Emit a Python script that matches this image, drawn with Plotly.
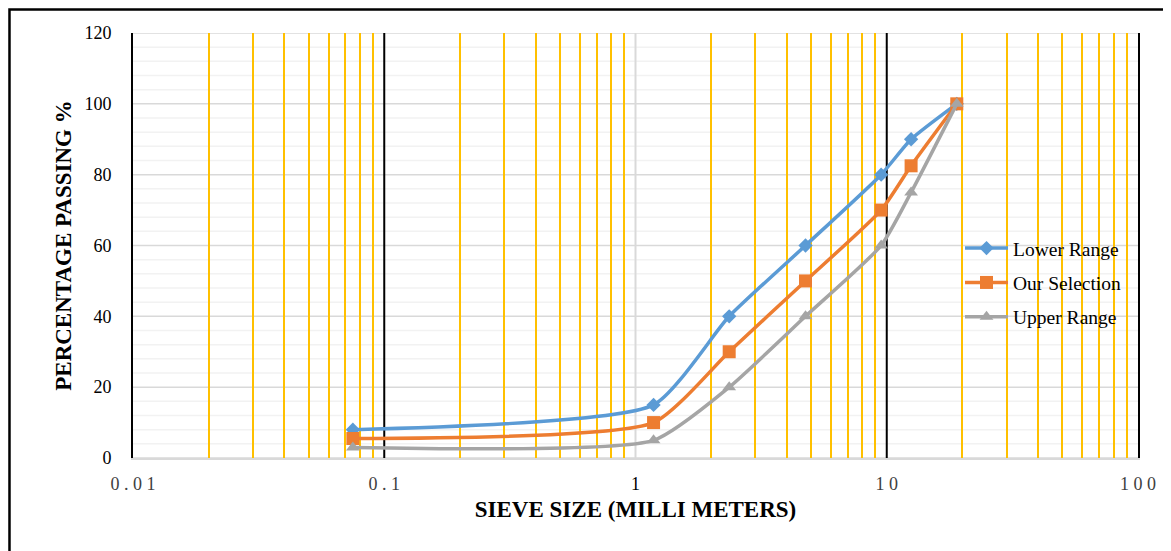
import plotly.graph_objects as go

sieve_sizes = [0.075, 1.18, 2.36, 4.75, 9.5, 12.5, 19]
lower_range = [8, 15, 40, 60, 80, 90, 100]
our_selection = [5.5, 10, 30, 50, 70, 82.5, 100]
upper_range = [3, 5, 20, 40, 60, 75, 100]

series_names = ["Lower Range", "Our Selection", "Upper Range"]
series_colors = ["#5B9BD5", "#ED7D31", "#A5A5A5"]
series_symbols = ["diamond", "square", "triangle-up"]
series_sizes = [11, 13, 12]

x_tickvals = [0.01, 0.1, 1, 10, 100]
x_ticktext = ["0 . 0 1", "0 . 1", "<span style='color:#000'>1</span>", "1 0", "1 0 0"]
inner_decades = [0.1, 1, 10]
inner_decade_colors = ["#000000", "#D9D9D9", "#000000"]
minor_multipliers = [2, 3, 4, 5, 6, 7, 8, 9]
y_tickvals = [0, 20, 40, 60, 80, 100, 120]
y_minor_step = 4

minor_vals = [d * m for d in [0.01, 0.1, 1, 10] for m in minor_multipliers]

FONT = "Liberation Serif, Times New Roman, serif"

fig = go.Figure()
for i, (name, vals, col, sym, sz) in enumerate(zip(series_names, [lower_range, our_selection, upper_range],
                                                   series_colors, series_symbols, series_sizes)):
    fig.add_trace(go.Scatter(
        x=sieve_sizes, y=vals, name=name, mode="lines+markers", legendgroup=f"g{i}",
        line=dict(color=col, width=3.5, shape="spline", smoothing=0.55),
        marker=dict(symbol=sym, size=sz, color=col),
    ))

# horizontal gridlines (beneath the vertical ones)
for v in range(0, 121, y_minor_step):
    major = v in y_tickvals
    fig.add_shape(type="line", xref="paper", yref="y", x0=0, x1=1, y0=v, y1=v,
                  line=dict(color="#D9D9D9" if major else "#F2F2F2", width=1.5), layer="below")

# inner decade gridlines
for xv, c in zip(inner_decades, inner_decade_colors):
    fig.add_shape(type="line", xref="x", yref="paper", x0=xv, x1=xv, y0=0, y1=1,
                  line=dict(color=c, width=2), layer="below")

fig.update_layout(
    xaxis=dict(
        type="log", range=[-2, 2],
        tickvals=x_tickvals, ticktext=x_ticktext,
        showgrid=False,
        minor=dict(tickmode="array", tickvals=minor_vals, showgrid=True,
                   gridcolor="#FFC000", gridwidth=1.5, ticks=""),
        showline=True, linecolor="#D9D9D9", linewidth=2,
        zeroline=False, ticks="", ticklabelstandoff=8,
        tickfont=dict(family=FONT, size=18, color="#404040"),
        title=dict(text="<b>SIEVE SIZE (MILLI METERS)</b>", font=dict(family=FONT, size=23, color="#000"), standoff=8),
    ),
    yaxis=dict(
        range=[0, 120], tickvals=y_tickvals,
        showgrid=False, zeroline=False, ticks="",
        showline=True, linecolor="#000000", linewidth=2, mirror=True,
        ticklabelstandoff=16,
        tickfont=dict(family=FONT, size=18, color="#000"),
        title=dict(text="<b>PERCENTAGE PASSING %</b>", font=dict(family=FONT, size=23, color="#000"), standoff=6),
    ),
)

# outer chart border
fig.add_shape(type="rect", xref="paper", yref="paper",
              x0=-0.1229, x1=1.0279, y0=-0.26, y1=1.0553,
              line=dict(color="#000", width=2.5), layer="above")

fig.update_layout(
    width=1163, height=543,
    margin=dict(l=125, r=33, t=25, b=93),
    plot_bgcolor="white", paper_bgcolor="white",
    font=dict(family=FONT),
    legend=dict(x=0.8229, y=0.539, xanchor="left", yanchor="top",
                bgcolor="rgba(0,0,0,0)", font=dict(family=FONT, size=19.5, color="#000"),
                tracegroupgap=6, itemwidth=43),
    showlegend=True,
)

fig.write_html("out.html")
